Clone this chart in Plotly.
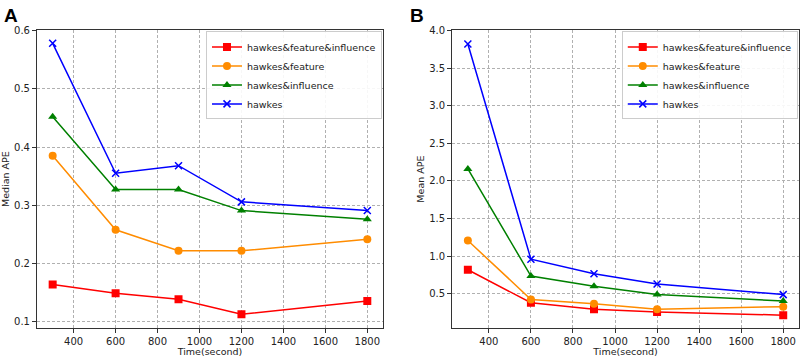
import plotly.graph_objects as go

times = [300, 600, 900, 1200, 1800]
series_names = ["hawkes&feature&influence", "hawkes&feature", "hawkes&influence", "hawkes"]
colors = ["#ff0000", "#ff8c00", "#008000", "#0000ff"]
symbols = ["square", "circle", "triangle-up", "x-thin"]

median_hfi = [0.164, 0.149, 0.139, 0.113, 0.136]
median_hf = [0.385, 0.258, 0.222, 0.222, 0.242]
median_hi = [0.452, 0.327, 0.327, 0.291, 0.276]
median_h = [0.578, 0.355, 0.368, 0.306, 0.291]

mean_hfi = [0.82, 0.382, 0.295, 0.26, 0.217]
mean_hf = [1.208, 0.426, 0.369, 0.295, 0.33]
mean_hi = [2.16, 0.736, 0.60, 0.49, 0.404]
mean_h = [3.82, 0.96, 0.767, 0.63, 0.49]

median_sets = [median_hfi, median_hf, median_hi, median_h]
mean_sets = [mean_hfi, mean_hf, mean_hi, mean_h]

FONT = "DejaVu Sans"
fig = go.Figure()

def add(vals, i, xa, ya, legend):
    sym = symbols[i]
    marker = dict(symbol=sym, size=8 if sym != "x-thin" else 7, color=colors[i],
                  line=dict(color=colors[i], width=1.5 if sym == "x-thin" else 0))
    fig.add_trace(go.Scatter(x=times, y=vals, mode="lines+markers", name=series_names[i],
                             line=dict(color=colors[i], width=1.5), marker=marker,
                             xaxis=xa, yaxis=ya, legend=legend))

for i in range(4):
    add(median_sets[i], i, "x", "y", "legend")
for i in range(4):
    add(mean_sets[i], i, "x2", "y2", "legend2")

axis_common = dict(showgrid=True, gridcolor="#b0b0b0", griddash="3px,2px", gridwidth=0.8,
                   showline=True, linecolor="#333333", linewidth=1, mirror=True,
                   ticks="outside", ticklen=4, tickcolor="#333333",
                   tickfont=dict(family=FONT, size=10, color="#222222"), zeroline=False)

title_font = dict(family=FONT, size=9.5, color="#222222")
legend_common = dict(xanchor="right", yanchor="top", bgcolor="rgba(255,255,255,0.9)",
                     bordercolor="#cccccc", borderwidth=1, font=dict(family=FONT, size=9.5),
                     tracegroupgap=0, itemwidth=30)

fig.update_layout(
    width=803, height=357, margin=dict(l=0, r=0, t=0, b=0),
    paper_bgcolor="white", plot_bgcolor="white",
    font=dict(family=FONT, color="#222222"),
    xaxis=dict(domain=[0.046, 0.477], range=[225, 1875], tickvals=[400, 600, 800, 1000, 1200, 1400, 1600, 1800],
               title=dict(text="Time(second)", font=title_font, standoff=3), anchor="y", **axis_common),
    yaxis=dict(domain=[0.081, 0.93], range=[0.0887, 0.6015], tickvals=[0.1, 0.2, 0.3, 0.4, 0.5, 0.6],
               ticktext=["0.1", "0.2", "0.3", "0.4", "0.5", "0.6"],
               title=dict(text="Median APE", font=title_font, standoff=2), anchor="x", **axis_common),
    xaxis2=dict(domain=[0.563, 0.995], range=[225, 1875], tickvals=[400, 600, 800, 1000, 1200, 1400, 1600, 1800],
                title=dict(text="Time(second)", font=title_font, standoff=3), anchor="y2", **axis_common),
    yaxis2=dict(domain=[0.081, 0.93], range=[0.04, 4.01], tickvals=[0.5, 1.0, 1.5, 2.0, 2.5, 3.0, 3.5, 4.0],
                ticktext=["0.5", "1.0", "1.5", "2.0", "2.5", "3.0", "3.5", "4.0"],
                title=dict(text="Mean APE", font=title_font, standoff=2), anchor="x2", **axis_common),
    legend=dict(x=0.4757, y=0.925, **legend_common),
    legend2=dict(x=0.9935, y=0.925, **legend_common),
    annotations=[
        dict(text="<b>A</b>", x=0.002, y=0.969, xref="paper", yref="paper", xanchor="left", yanchor="middle",
             showarrow=False, font=dict(family="Liberation Sans", size=19, color="black")),
        dict(text="<b>B</b>", x=0.508, y=0.969, xref="paper", yref="paper", xanchor="left", yanchor="middle",
             showarrow=False, font=dict(family="Liberation Sans", size=19, color="black")),
    ],
)

fig.write_html("out.html", config={"displayModeBar": False},
               post_script="document.body.style.margin='0';document.body.style.padding='0';document.body.style.overflow='hidden';")
